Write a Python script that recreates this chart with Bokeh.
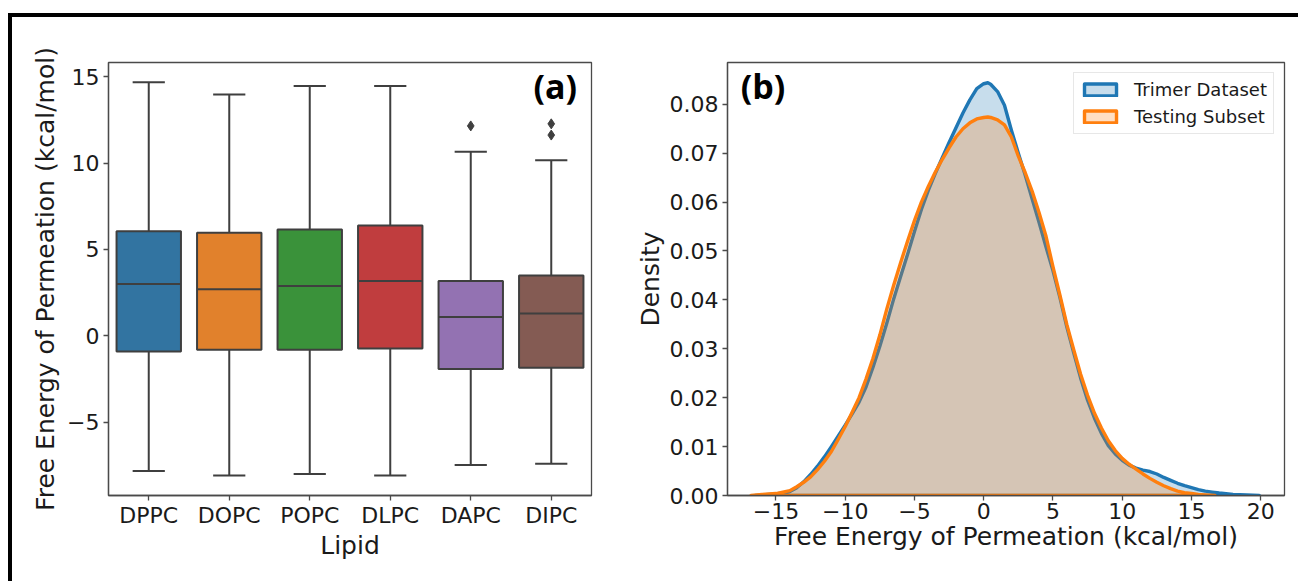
from bokeh.plotting import figure
from bokeh.layouts import row
from bokeh.models import (ColumnDataSource, FactorRange, Range1d, FixedTicker, Label,
                          Legend, LegendItem, NumeralTickFormatter)
from bokeh.transform import dodge
from bokeh.embed import file_html
from bokeh.resources import INLINE

# ---------------- data: panel (a) ----------------
lipids = ["DPPC", "DOPC", "POPC", "DLPC", "DAPC", "DIPC"]
box_colors = ["#3274a1", "#e1812c", "#3a923a", "#c03d3e", "#9372b2", "#845b53"]
whisker_low = [-7.82, -8.08, -8.0, -8.08, -7.48, -7.4]
q1 = [-0.9, -0.81, -0.81, -0.73, -1.92, -1.84]
median = [3.0, 2.7, 2.89, 3.17, 1.09, 1.29]
q3 = [6.06, 5.97, 6.16, 6.38, 3.17, 3.49]
whisker_high = [14.68, 13.97, 14.46, 14.46, 10.65, 10.16]
outlier_lipid = ["DAPC", "DIPC", "DIPC"]
outlier_value = [12.15, 12.27, 11.62]
y_ticks_a = [-5, 0, 5, 10, 15]

# ---------------- data: panel (b) ----------------
energy_trimer = [-16.5, -15.5, -15, -14.5, -14, -13.5, -13, -12.5, -12, -11.5, -11, -10.5, -10,
                 -9.5, -9, -8.5, -8, -7.5, -7, -6.5, -6, -5.5, -5, -4.5, -4, -3.5, -3, -2.5, -2,
                 -1.5, -1, -0.5, 0, 0.3, 0.5, 1, 1.5, 2, 2.5, 3, 3.5, 4, 4.5, 5, 5.5, 6, 6.5, 7,
                 7.5, 8, 8.5, 9, 9.5, 10, 10.5, 11, 11.5, 12, 12.5, 13, 13.5, 14, 14.5, 15, 15.5,
                 16, 16.5, 17, 18, 19, 19.9]
density_trimer = [0.0, 0.0002, 0.0003, 0.0005, 0.0008, 0.0016, 0.0028, 0.0043, 0.0060, 0.0079,
                  0.0100, 0.0122, 0.0144, 0.0167, 0.0191, 0.0222, 0.0262, 0.0305, 0.0352, 0.0402,
                  0.0448, 0.0493, 0.0540, 0.0585, 0.0624, 0.0658, 0.0690, 0.0722, 0.0752, 0.0782,
                  0.0809, 0.0832, 0.0842, 0.0844, 0.0841, 0.0826, 0.0798, 0.0747, 0.0700, 0.0655,
                  0.0606, 0.0558, 0.0508, 0.0460, 0.0405, 0.0345, 0.0292, 0.0240, 0.0195, 0.0158,
                  0.0127, 0.0102, 0.0085, 0.0072, 0.0062, 0.0056, 0.0052, 0.0049, 0.0044, 0.0037,
                  0.0031, 0.0025, 0.0020, 0.0016, 0.0012, 0.0009, 0.0007, 0.0005, 0.0002, 0.0001,
                  0.0]
energy_testing = [-16.8, -16, -15.5, -15, -14.5, -14, -13.5, -13, -12.5, -12, -11.5, -11, -10.5,
                  -10, -9.5, -9, -8.5, -8, -7.5, -7, -6.5, -6, -5.5, -5, -4.5, -4, -3.5, -3, -2.5,
                  -2, -1.5, -1, -0.5, 0, 0.3, 0.5, 1, 1.5, 2, 2.5, 3, 3.5, 4, 4.5, 5, 5.5, 6, 6.5,
                  7, 7.5, 8, 8.5, 9, 9.5, 10, 10.5, 11, 11.5, 12, 12.5, 13, 13.5, 14, 14.5, 15,
                  15.5, 16, 16.7]
density_testing = [0.0, 0.0002, 0.0003, 0.0004, 0.0007, 0.0010, 0.0018, 0.0027, 0.0038, 0.0053,
                   0.0070, 0.0090, 0.0115, 0.0141, 0.0170, 0.0200, 0.0238, 0.0280, 0.0328, 0.0381,
                   0.0430, 0.0476, 0.0520, 0.0562, 0.0600, 0.0632, 0.0661, 0.0687, 0.0711, 0.0733,
                   0.0750, 0.0762, 0.0770, 0.0773, 0.0774, 0.0773, 0.0768, 0.0758, 0.0733, 0.0694,
                   0.0660, 0.0622, 0.0578, 0.0530, 0.0468, 0.0410, 0.0350, 0.0298, 0.0248, 0.0205,
                   0.0168, 0.0138, 0.0112, 0.0092, 0.0076, 0.0064, 0.0054, 0.0044, 0.0035, 0.0027,
                   0.0020, 0.0014, 0.0009, 0.0006, 0.0004, 0.0002, 0.0001, 0.0]
series_names = ["Trimer Dataset", "Testing Subset"]
series_colors = ["#1f77b4", "#ff7f0e"]
x_ticks_b = [-15, -10, -5, 0, 5, 10, 15, 20]
y_ticks_b = [0.0, 0.01, 0.02, 0.03, 0.04, 0.05, 0.06, 0.07, 0.08]

FONT = "DejaVu Sans"
TICK_FS = "22px"
LABEL_FS = "25px"
SPINE = "#4a4a4a"
LINE = "#3f3f3f"


def style_axes(p):
    p.xgrid.visible = False
    p.ygrid.visible = False
    p.outline_line_color = SPINE
    p.outline_line_width = 1.3
    for ax in (p.xaxis[0], p.yaxis[0]):
        ax.axis_line_color = SPINE
        ax.axis_line_width = 1.3
        ax.major_tick_line_color = SPINE
        ax.major_tick_line_width = 1.3
        ax.major_tick_out = 5
        ax.major_tick_in = 0
        ax.minor_tick_line_color = None
        ax.major_label_text_font = FONT
        ax.major_label_text_font_size = TICK_FS
        ax.major_label_text_color = "#1a1a1a"
        ax.axis_label_text_font = FONT
        ax.axis_label_text_font_size = LABEL_FS
        ax.axis_label_text_font_style = "normal"
        ax.axis_label_text_color = "#1a1a1a"
        ax.major_label_standoff = 4
        ax.axis_label_standoff = 4
    p.xaxis[0].major_label_standoff = 2
    p.xaxis[0].axis_label_standoff = 0


# ---------------- panel (a) ----------------
p1 = figure(width=616, height=564, output_backend="svg", toolbar_location=None,
            x_range=FactorRange(*lipids, range_padding=0, factor_padding=0),
            y_range=Range1d(-9.24, 15.82),
            min_border_left=96, min_border_right=37, min_border_top=44, min_border_bottom=86)
style_axes(p1)
p1.xaxis.axis_label = "Lipid"
p1.yaxis.axis_label = "Free Energy of Permeation (kcal/mol)"
p1.yaxis.ticker = FixedTicker(ticks=y_ticks_a)
p1.yaxis.major_label_overrides = {t: (str(t).replace("-", "\u2212")) for t in y_ticks_a}

src = ColumnDataSource(dict(lipid=lipids, color=box_colors, lo=whisker_low, q1=q1, med=median,
                            q3=q3, hi=whisker_high))
# whiskers
p1.segment(x0="lipid", y0="q3", x1="lipid", y1="hi", source=src, line_color=LINE, line_width=2)
p1.segment(x0="lipid", y0="lo", x1="lipid", y1="q1", source=src, line_color=LINE, line_width=2)
# caps
p1.segment(x0=dodge("lipid", -0.2, range=p1.x_range), y0="hi",
           x1=dodge("lipid", 0.2, range=p1.x_range), y1="hi", source=src, line_color=LINE, line_width=2)
p1.segment(x0=dodge("lipid", -0.2, range=p1.x_range), y0="lo",
           x1=dodge("lipid", 0.2, range=p1.x_range), y1="lo", source=src, line_color=LINE, line_width=2)
# boxes
p1.vbar(x="lipid", width=0.8, bottom="q1", top="q3", source=src, fill_color="color",
        line_color=LINE, line_width=2)
# medians
p1.segment(x0=dodge("lipid", -0.4, range=p1.x_range), y0="med",
           x1=dodge("lipid", 0.4, range=p1.x_range), y1="med", source=src, line_color=LINE, line_width=2)
# outliers
p1.scatter(x=outlier_lipid, y=outlier_value, marker="diamond", size=10,
           fill_color=LINE, line_color=LINE)

p1.add_layout(Label(x=5.28, y=14.45, text="(a)", text_font="Open Sans", text_font_style="bold",
                    text_font_size="34px", text_color="black", text_baseline="alphabetic"))

# ---------------- panel (b) ----------------
p2 = figure(width=670, height=564, output_backend="svg", toolbar_location=None,
            x_range=Range1d(-18.5, 21.72), y_range=Range1d(0, 0.08854),
            min_border_left=99, min_border_right=14, min_border_top=45, min_border_bottom=86)
style_axes(p2)
p2.yaxis.axis_label_standoff = 2
p2.xaxis.axis_label = "Free Energy of Permeation (kcal/mol)"
p2.yaxis.axis_label = "Density"
p2.xaxis.ticker = FixedTicker(ticks=x_ticks_b)
p2.xaxis.major_label_overrides = {t: (str(t).replace("-", "\u2212")) for t in x_ticks_b}
p2.yaxis.ticker = FixedTicker(ticks=y_ticks_b)
p2.yaxis.formatter = NumeralTickFormatter(format="0.00")

renderers = []
for xs, ys, col in ((energy_trimer, density_trimer, series_colors[0]),
                    (energy_testing, density_testing, series_colors[1])):
    r = p2.patch(x=list(xs) + list(xs[::-1]), y=list(ys) + [0.0] * len(ys),
                 fill_color=col, fill_alpha=0.25, line_color=col, line_width=3.4,
                 line_join="round")
    renderers.append(r)

legend = Legend(items=[LegendItem(label=series_names[0], renderers=[renderers[0]]),
                       LegendItem(label=series_names[1], renderers=[renderers[1]])],
                location="top_right", margin=10, padding=6, spacing=6,
                glyph_width=40, glyph_height=15, label_height=21, label_standoff=14,
                label_text_font=FONT, label_text_font_size="18px", label_text_color="#1a1a1a",
                border_line_color="#d0d0d0", border_line_width=1,
                background_fill_color="white", background_fill_alpha=0.8)
p2.add_layout(legend)

p2.add_layout(Label(x=-17.55, y=0.0837, text="(b)", text_font="Open Sans", text_font_style="bold",
                    text_font_size="34px", text_color="black", text_baseline="alphabetic"))

layout = row(p1, p2, styles={"border-top": "4px solid black", "border-left": "4px solid black",
                             "margin-top": "13px", "margin-left": "8px"})

open("out.html", "w").write(file_html(layout, INLINE))
